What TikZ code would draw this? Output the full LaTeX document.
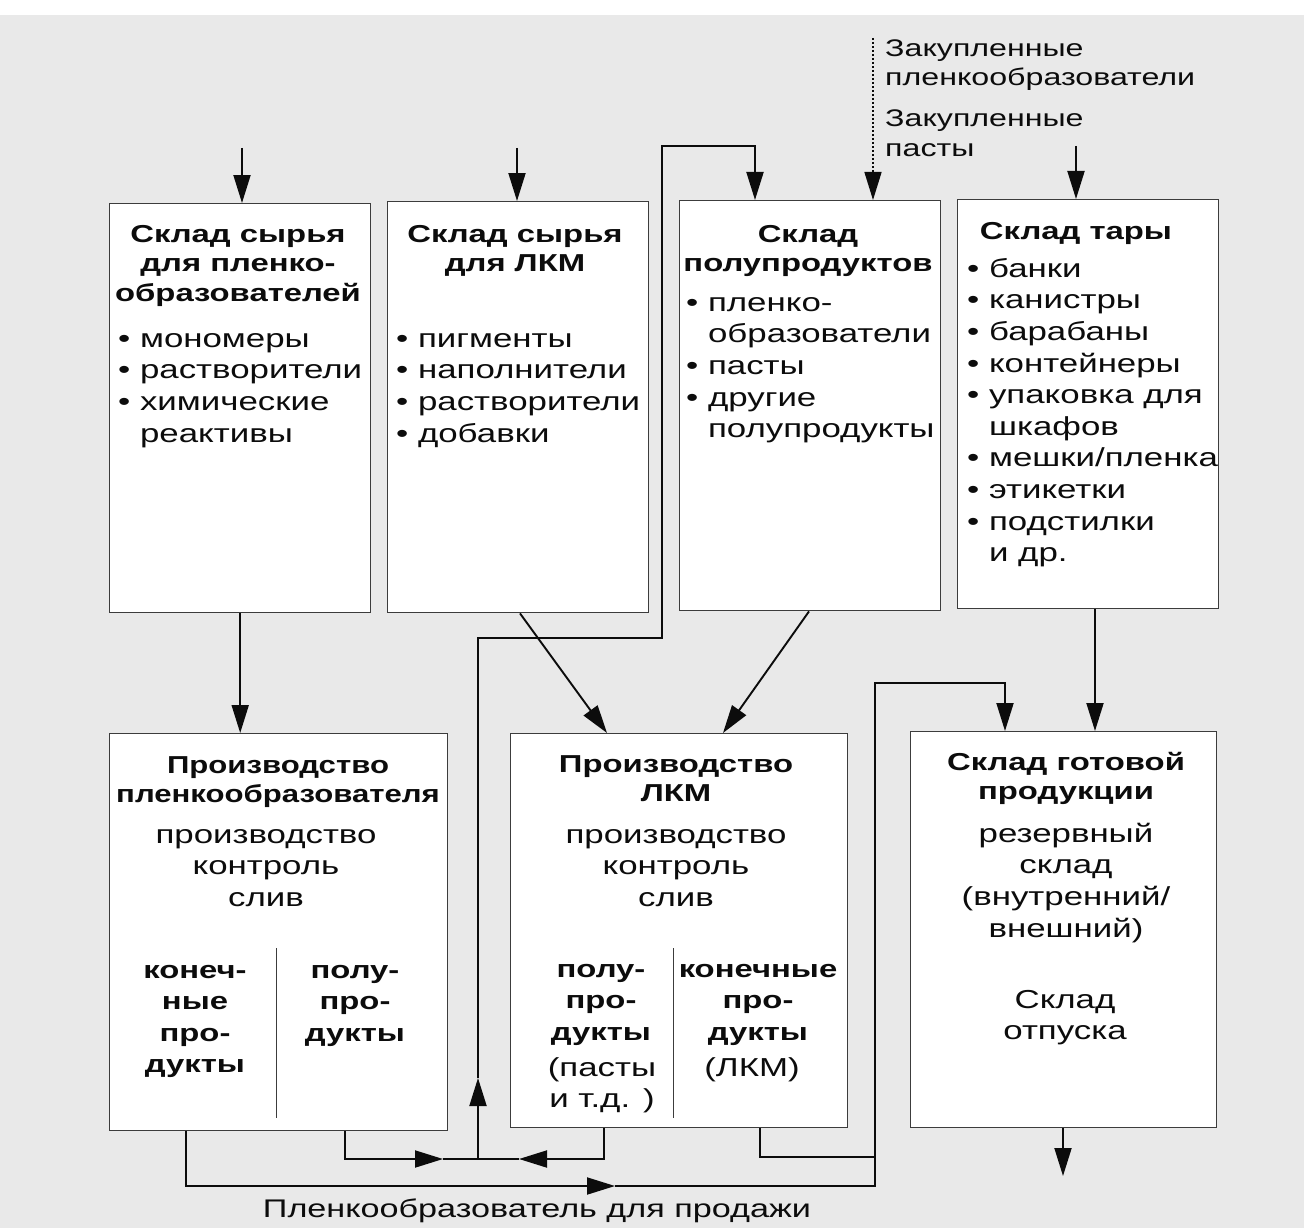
\documentclass[tikz,border=0pt]{standalone}
\usepackage{fontspec}
\setmainfont[FakeStretch=1.34]{Liberation Sans}
\newfontfamily\narrowfam[FakeStretch=1.27]{Liberation Sans}
\usetikzlibrary{arrows.meta,calc}
\definecolor{ink}{RGB}{12,12,12}
\definecolor{edge}{RGB}{60,60,60}
\definecolor{paper}{RGB}{233,233,233}
\newcommand\ftitle{\fontsize{24.5}{29.5}\selectfont\bfseries}
\newcommand\ftitlen{\narrowfam\fontsize{24.5}{29.5}\selectfont\bfseries}
\newcommand\fcol{\fontsize{24.5}{31.5}\selectfont\bfseries}
\newcommand\fbody{\fontsize{26}{31.6}\selectfont}
\newcommand\flab{\fontsize{24}{29.5}\selectfont}
\newcommand\fsale{\fontsize{25.5}{29}\selectfont}
\newcommand\mybul{•\ }
\newcommand\myind{\hphantom{•\ }}
\begin{document}
\begin{tikzpicture}[x=1pt,y=-1pt,
  box/.style={draw=edge, line width=1.4pt, fill=white, inner sep=0pt, anchor=north west},
  txt/.style={inner sep=0pt, align=center, anchor=north, text=ink},
  lst/.style={inner sep=0pt, align=left, anchor=north west, text=ink},
  arr/.style={draw=ink, line width=1.9pt, -{Triangle[length=28pt,width=17pt]}},
  ln/.style={draw=ink, line width=1.9pt},
  dots/.style={draw=ink, line width=1.5pt, dash pattern=on 2pt off 2pt, -{Triangle[length=28pt,width=17pt]}},
  divider/.style={draw=edge, line width=1pt}]
\useasboundingbox (0,0) rectangle (1304,1228);
\fill[paper] (0,15) rectangle (1304,1228);
\fill[white] (0,0) rectangle (1304,15);

% boxes
\node[box, minimum width=261pt, minimum height=409pt] (b1) at (109,203) {};
\node[box, minimum width=261pt, minimum height=411pt] (b2) at (387,201) {};
\node[box, minimum width=261pt, minimum height=410pt] (b3) at (679,200) {};
\node[box, minimum width=261pt, minimum height=409pt] (b4) at (957,199) {};
\node[box, minimum width=338pt, minimum height=397pt] (b5) at (109,733) {};
\node[box, minimum width=337pt, minimum height=394pt] (b6) at (510,733) {};
\node[box, minimum width=306pt, minimum height=396pt] (b7) at (910,731) {};

% box 1
\node[txt, font=\ftitle] (t1) at (238,221.4) {\strut Склад сырья\\для пленко-\\образователей};
\node[lst, font=\fbody] (l1) at (118,325) {\strut\mybul мономеры\\\mybul растворители\\\mybul химические\\\myind реактивы};
% box 2
\node[txt, font=\ftitle] (t2) at (515,221.4) {\strut Склад сырья\\для ЛКМ};
\node[lst, font=\fbody] (l2) at (396,325) {\strut\mybul пигменты\\\mybul наполнители\\\mybul растворители\\\mybul добавки};
% box 3
\node[txt, font=\ftitle] (t3) at (808,221.4) {\strut Склад\\полупродуктов};
\node[lst, font=\fbody] (l3) at (686,289) {\strut\mybul пленко-\\\myind образователи\\\mybul пасты\\\mybul другие\\\myind полупродукты};
% box 4
\node[txt, font=\ftitle] (t4) at (1076,218.4) {\strut Склад тары};
\node[lst, font=\fbody] (l4) at (967,255) {\strut\mybul банки\\\mybul канистры\\\mybul барабаны\\\mybul контейнеры\\\mybul упаковка для\\\myind шкафов\\\mybul мешки/пленка\\\mybul этикетки\\\mybul подстилки\\\myind и др.};
% box 5
\node[txt, font=\ftitlen] (t5) at (278,752.4) {\strut Производство\\пленкообразователя};
\node[txt, font=\fbody] (m5) at (266,821) {\strut производство\\контроль\\слив};
\node[txt, font=\fcol] (c5a) at (195,956) {\strut конеч-\\ные\\про-\\дукты};
\node[txt, font=\fcol] (c5b) at (355,956) {\strut полу-\\про-\\дукты};
\draw[divider] (276,948) -- (276,1118);
% box 6
\node[txt, font=\ftitle] (t6) at (676,751.4) {\strut Производство\\ЛКМ};
\node[txt, font=\fbody] (m6) at (676,821) {\strut производство\\контроль\\слив};
\node[txt, font=\fcol] (c6a) at (601,955) {\strut полу-\\про-\\дукты};
\node[txt, font=\fbody] (c6c) at (602,1054) {\strut (пасты\\и т.д. )};
\node[txt, font=\fcol] (c6b) at (758,955) {\strut конечные\\про-\\дукты};
\node[txt, font=\fbody] (c6d) at (752,1054) {\strut (ЛКМ)};
\draw[divider] (673,948) -- (673,1118);
% box 7
\node[txt, font=\ftitle] (t7) at (1066,749.4) {\strut Склад готовой\\продукции};
\node[txt, font=\fbody] (m7) at (1066,820) {\strut резервный\\склад\\(внутренний/\\внешний)};
\node[txt, font=\fbody] (m7b) at (1065,986) {\strut Склад\\отпуска};

% outside labels
\node[lst, font=\flab] (lab1) at (885,35.5) {\strut Закупленные\\пленкообразователи};
\node[lst, font=\flab] (lab2) at (885,106) {\strut Закупленные\\пасты};
\node[txt, font=\fsale] (sale) at (537,1197) {\strut Пленкообразователь для продажи};

% input arrows
\coordinate (i1) at (242,148);
\coordinate (i2) at (517,148);
\coordinate (i3) at (873,38);
\coordinate (i4) at (1076,146);
\draw[arr] (i1) -- (i1 |- b1.north);
\draw[arr] (i2) -- (i2 |- b2.north);
\draw[dots] (i3) -- (i3 |- b3.north);
\draw[arr] (i4) -- (i4 |- b4.north);

% top row to bottom row
\draw[arr] (b1.south) -- (b1.south |- b5.north);
\draw[arr] ($(b2.south west)+(133,0)$) -- ($(b6.north west)+(97,0)$);
\draw[arr] ($(b3.south west)+(130,0)$) -- ($(b6.north west)+(213,0)$);
\coordinate (s4) at ($(b4.south west)+(138,0)$);
\draw[arr] (s4) -- (s4 |- b7.north);

% semi-products loop to b3
\coordinate (J) at (478,1159);
\coordinate (A) at (478,1078);
\coordinate (P1) at (478,638);
\coordinate (P2) at (662,638);
\coordinate (P3) at (662,146);
\coordinate (P4) at (755,146);
\draw[arr] (J) -- (A);
\draw[arr] (A) -- (P1) -- (P2) -- (P3) -- (P4) -- (P4 |- b3.north);

\coordinate (M1) at (443,1159);
\coordinate (M2) at (519,1159);
\draw[arr] ($(b5.south west)+(236,0)$) |- (M1);
\draw[ln] (M1) -- (J);
\draw[arr] ($(b6.south west)+(94,0)$) |- (M2);
\draw[ln] (M2) -- (J);

% final products to b7
\coordinate (S) at (615,1186);
\coordinate (K1) at (875,1186);
\coordinate (K2) at (875,683);
\coordinate (K3) at (1005,683);
\coordinate (K4) at (875,1157);
\draw[arr] ($(b5.south west)+(77,0)$) |- (S);
\draw[arr] (S) -- (K1) -- (K2) -- (K3) -- (K3 |- b7.north);
\draw[ln] ($(b6.south west)+(250,0)$) |- (K4);

% output of b7
\coordinate (O) at (1063,1176);
\draw[arr] (O |- b7.south) -- (O);
\end{tikzpicture}
\end{document}
